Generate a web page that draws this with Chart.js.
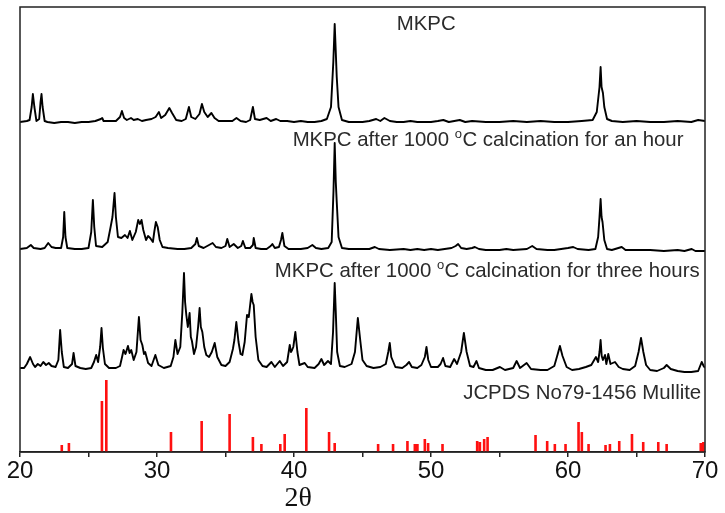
<!DOCTYPE html>
<html>
<head>
<meta charset="utf-8">
<script src="https://cdn.jsdelivr.net/npm/chart.js@4/dist/chart.umd.min.js"></script>
<style>
html,body{margin:0;padding:0;background:#fff;}
#wrap{width:725px;height:513px;}
</style>
</head>
<body>
<div id="wrap"><canvas id="c" width="725" height="513"></canvas></div>
<script>
// ---- Data (2θ, relative intensity incl. stacking offset) ----
const xTicks = [20, 30, 40, 50, 60, 70];
const axisTitle = "2θ";

const mkpc = [
[20.0,330],[20.5,331],[20.7,332],[20.85,345],[20.94,358],[21.05,345],[21.2,331],[21.4,333],[21.5,350],[21.57,358],[21.65,345],[21.8,331],
[22.0,330],[22.5,329],[23.0,330],[23.5,330],[24.0,329],[24.5,330],[25.0,330],[25.5,331],[25.9,333],[26.0,334],[26.1,331],[26.5,331],
[27.0,331],[27.3,335],[27.44,341],[27.6,334],[27.8,332],[28.1,334],[28.3,332],[28.6,333],[28.9,331],[29.2,332],[29.6,333],[29.9,335],
[30.14,340],[30.3,334],[30.6,337],[30.9,344],[31.1,339],[31.4,332],[31.8,331],[32.1,333],[32.33,345],[32.5,335],[32.8,333],[33.1,338],
[33.28,348],[33.45,340],[33.7,335],[33.97,339],[34.2,334],[34.5,331],[35.0,331],[35.5,331],[35.8,334],[36.1,331],[36.5,330],[36.8,332],
[37.0,345],[37.15,333],[37.5,332],[38.0,334],[38.3,331],[38.7,333],[39.0,331],[39.5,331],[40.0,330],[40.5,331],[41.0,330],[41.5,330],
[42.0,331],[42.4,333],[42.7,345],[42.87,390],[42.97,428],[43.05,400],[43.12,375],[43.25,345],[43.5,332],[44.0,330],[45.0,330],[45.5,331],
[46.0,333],[46.3,331],[46.6,334],[47.0,331],[47.5,330],[48.0,330],[48.5,331],[49.0,330],[50.0,330],[50.5,331],[50.9,332],[51.3,330],
[51.7,331],[52.1,332],[52.5,330],[53.0,331],[54.0,330],[55.0,330],[56.0,331],[57.0,330],[58.0,331],[59.0,330],[60.0,330],[61.0,331],
[61.8,332],[62.1,340],[62.3,365],[62.38,385],[62.45,365],[62.55,359],[62.65,345],[62.85,333],[63.2,331],[64.0,330],[65.0,331],[66.0,330],
[67.0,330],[68.0,331],[69.0,330],[69.5,332],[70.0,331]
];

const mkpc1h = [
[20.0,203],[20.5,204],[20.79,207],[21.0,204],[21.5,203],[21.8,204],[22.06,209],[22.3,205],[22.6,204],[23.0,204],[23.15,215],[23.23,240],
[23.32,215],[23.45,204],[24.0,203],[24.5,203],[25.0,204],[25.2,220],[25.32,252],[25.42,225],[25.55,206],[26.0,205],[26.4,210],[26.6,224],
[26.75,235],[26.9,259],[27.0,235],[27.15,215],[27.4,214],[27.66,217],[27.85,214],[28.02,221],[28.2,212],[28.45,220],[28.63,232],[28.75,228],
[28.87,232],[29.0,222],[29.2,212],[29.35,216],[29.5,214],[29.7,210],[29.8,220],[29.92,230],[30.05,225],[30.2,212],[30.4,205],[30.8,204],
[31.5,203],[32.0,203],[32.5,204],[32.8,208],[32.91,214],[33.05,206],[33.4,204],[33.8,207],[34.06,209],[34.3,205],[34.7,204],[35.0,206],
[35.13,213],[35.3,205],[35.6,208],[35.9,204],[36.15,206],[36.27,211],[36.45,204],[36.8,204],[37.0,207],[37.06,214],[37.2,204],[37.6,203],
[38.0,203],[38.3,206],[38.42,208],[38.6,204],[38.9,205],[39.05,212],[39.15,219],[39.3,206],[39.6,203],[40.0,203],[40.5,203],[41.0,204],
[41.34,207],[41.6,204],[42.0,203],[42.5,204],[42.75,210],[42.88,260],[42.97,309],[43.05,270],[43.12,250],[43.25,215],[43.5,204],[44.0,203],
[45.0,203],[45.5,203],[45.9,205],[46.2,203],[47.0,202],[48.0,203],[48.5,202],[49.0,203],[49.5,202],[50.0,203],[50.5,202],[51.0,203],
[51.5,204],[51.8,206],[51.98,208],[52.2,204],[52.6,203],[53.0,204],[53.2,205],[53.5,203],[54.0,202],[55.0,202],[55.5,203],[56.0,202],
[57.0,203],[57.39,206],[57.7,203],[58.5,202],[59.0,202],[59.5,203],[60.0,204],[60.38,205],[60.7,203],[61.5,202],[62.0,203],[62.2,215],
[62.3,235],[62.38,253],[62.45,235],[62.52,230],[62.65,212],[62.85,203],[63.2,202],[63.92,205],[64.2,202],[65.0,202],[66.0,202],[67.0,201],
[68.0,202],[68.5,201],[69.03,203],[69.3,201],[70.0,201]
];

const mkpc3h = [
[20.0,84],[20.3,84],[20.5,88],[20.74,95],[20.95,88],[21.1,85],[21.3,88],[21.5,86],[21.7,90],[21.9,87],[22.1,89],[22.3,86],[22.6,85],
[22.8,92],[22.93,122],[23.05,100],[23.2,85],[23.5,84],[23.8,88],[23.91,99],[24.05,86],[24.4,84],[24.8,83],[25.2,84],[25.4,90],[25.56,97],
[25.7,90],[25.85,105],[25.95,124],[26.05,104],[26.2,88],[26.5,84],[27.0,84],[27.3,86],[27.45,95],[27.56,102],[27.7,98],[27.88,106],
[28.0,99],[28.12,102],[28.3,92],[28.5,100],[28.68,135],[28.8,112],[28.93,107],[29.05,98],[29.14,100],[29.35,89],[29.6,86],[29.88,97],
[30.1,87],[30.5,84],[31.0,86],[31.2,95],[31.34,112],[31.5,98],[31.7,105],[31.85,140],[31.97,179],[32.05,150],[32.14,137],[32.25,125],
[32.38,139],[32.47,115],[32.55,111],[32.7,98],[32.85,105],[33.0,125],[33.11,144],[33.2,125],[33.31,120],[33.45,105],[33.6,97],[33.8,95],
[34.0,100],[34.21,109],[34.4,95],[34.7,87],[35.0,86],[35.3,90],[35.54,103],[35.65,112],[35.79,130],[35.95,110],[36.1,98],[36.23,97],
[36.4,110],[36.57,137],[36.7,135],[36.89,158],[36.98,150],[37.06,147],[37.2,115],[37.4,92],[37.7,86],[38.0,85],[38.35,90],[38.6,85],
[38.96,91],[39.2,86],[39.5,90],[39.69,107],[39.78,100],[39.86,102],[39.95,105],[40.1,120],[40.25,100],[40.4,87],[40.78,89],[41.0,85],
[41.5,84],[41.8,88],[42.0,93],[42.2,87],[42.48,91],[42.7,88],[42.85,120],[42.97,169],[43.05,140],[43.15,100],[43.35,86],[43.7,85],
[44.2,88],[44.45,100],[44.66,134],[44.85,110],[45.0,92],[45.3,86],[45.8,84],[46.3,85],[46.7,88],[46.88,100],[46.99,109],[47.1,95],
[47.4,85],[47.9,84],[48.2,87],[48.4,90],[48.6,85],[49.0,84],[49.3,87],[49.55,95],[49.67,105],[49.8,92],[50.0,85],[50.5,85],[50.7,88],
[50.88,94],[51.05,86],[51.4,85],[51.69,93],[51.9,88],[52.2,100],[52.4,119],[52.6,100],[52.85,86],[53.1,85],[53.32,91],[53.5,84],
[54.0,82],[54.5,82],[55.03,85],[55.4,82],[56.0,84],[56.25,91],[56.5,84],[56.98,89],[57.3,83],[58.0,82],[58.5,82],[59.0,86],[59.25,98],
[59.41,106],[59.6,96],[59.9,85],[60.3,82],[60.8,83],[61.3,85],[61.7,87],[62.04,95],[62.2,90],[62.3,100],[62.38,112],[62.46,96],[62.55,92],
[62.7,97],[62.8,88],[62.94,98],[63.1,88],[63.43,90],[63.7,85],[64.0,83],[64.5,82],[64.9,86],[65.15,100],[65.33,114],[65.5,100],[65.7,87],
[66.0,82],[66.5,81],[67.0,84],[67.2,87],[67.5,83],[68.0,81],[68.5,80],[69.0,80],[69.5,81],[69.76,90],[69.9,86],[70.0,84]
];

// JCPDS No79-1456 Mullite reference lines
const mulliteAngles = [23.05,23.57,25.98,26.3,31.02,33.26,35.3,37.0,37.62,39.0,39.32,40.9,42.56,42.97,46.14,47.23,48.28,48.82,49.01,49.55,49.79,50.84,53.37,53.57,53.88,54.13,57.63,58.48,59.04,59.82,60.77,61.01,61.5,62.74,63.06,63.74,64.67,65.49,66.59,67.2,69.69,69.88];
const mulliteIntensities = [7,9,51,72,20,31,38,15,8,8,18,44,20,9,8,8,11,8,8,13,9,8,11,10,13,15,17,11,8,8,30,20,8,7,8,11,18,10,10,8,9,10];

const labels = [
  {text:["MKPC"], x:47.5, y:422},
  {text:["MKPC after 1000 ","o","C calcination for an hour"], x:39.9, y:306},
  {text:["MKPC after 1000 ","o","C calcination for three hours"], x:38.6, y:175},
  {text:["JCPDS No79-1456 Mullite"], x:52.35, y:53}
];

// ---- Build datasets ----
const toXY = arr => arr.map(p => ({x:p[0], y:p[1]}));
const stickData = [];
mulliteAngles.forEach((a,i) => {
  stickData.push({x:a, y:0});
  stickData.push({x:a, y:mulliteIntensities[i]});
  stickData.push({x:a, y:null});
});

const lineStyle = {borderColor:'#000', borderWidth:1.9, pointRadius:0, tension:0, fill:false, borderJoinStyle:'round'};

const framePlugin = {
  id:'frame',
  afterDraw(chart){
    const {ctx, chartArea:a, scales} = chart;
    ctx.save();
    ctx.strokeStyle = '#222';
    ctx.lineWidth = 1.5;
    ctx.strokeRect(a.left, a.top, a.right - a.left, a.bottom - a.top);
    // annotations
    ctx.fillStyle = '#2b2b2b';
    ctx.textBaseline = 'alphabetic';
    labels.forEach(l => {
      let x = scales.x.getPixelForValue(l.x);
      const y = scales.y.getPixelForValue(l.y);
      l.text.forEach((t, i) => {
        const sup = (l.text.length === 3 && i === 1);
        ctx.font = sup ? '13px "Liberation Sans", Arial, sans-serif' : '20.4px "Liberation Sans", Arial, sans-serif';
        ctx.fillText(t, x, sup ? y - 8 : y);
        x += ctx.measureText(t).width + (sup ? 0.5 : 0);
      });
    });
    // axis title
    ctx.fillStyle = '#111';
    ctx.font = '28px "Liberation Serif", "Times New Roman", serif';
    ctx.textAlign = 'center';
    ctx.fillText(axisTitle, scales.x.getPixelForValue(40.3), 506);
    ctx.restore();
  }
};

new Chart(document.getElementById('c'), {
  type:'line',
  data:{
    datasets:[
      Object.assign({label:'MKPC', data:toXY(mkpc)}, lineStyle),
      Object.assign({label:'1h', data:toXY(mkpc1h)}, lineStyle),
      Object.assign({label:'3h', data:toXY(mkpc3h)}, lineStyle),
      {label:'Mullite', data:stickData, borderColor:'#ff1010', borderWidth:2.6, pointRadius:0, spanGaps:false, borderCapStyle:'butt', tension:0}
    ]
  },
  plugins:[framePlugin],
  options:{
    responsive:false,
    animation:false,
    events:[],
    layout:{padding:{left:20, right:20, top:7, bottom:0}},
    plugins:{legend:{display:false}, tooltip:{enabled:false}},
    scales:{
      x:{
        type:'linear', min:20, max:70,
        afterBuildTicks(s){ s.ticks = [20,25,30,35,40,45,50,55,60,65,70].map(v=>({value:v})); },
        afterFit(s){ s.height = 61; },
        ticks:{
          autoSkip:false, maxRotation:0, padding:0, color:'#111',
          font:{family:'"Liberation Sans", Arial, sans-serif', size:24},
          callback:(v)=> xTicks.includes(v) ? String(v) : ''
        },
        grid:{display:true, drawOnChartArea:false, drawTicks:true, tickLength:5, color:'#222', lineWidth:1.5},
        border:{display:true, color:'#222', width:1.5}
      },
      y:{display:false, min:0, max:445}
    }
  }
});
</script>
</body>
</html>
